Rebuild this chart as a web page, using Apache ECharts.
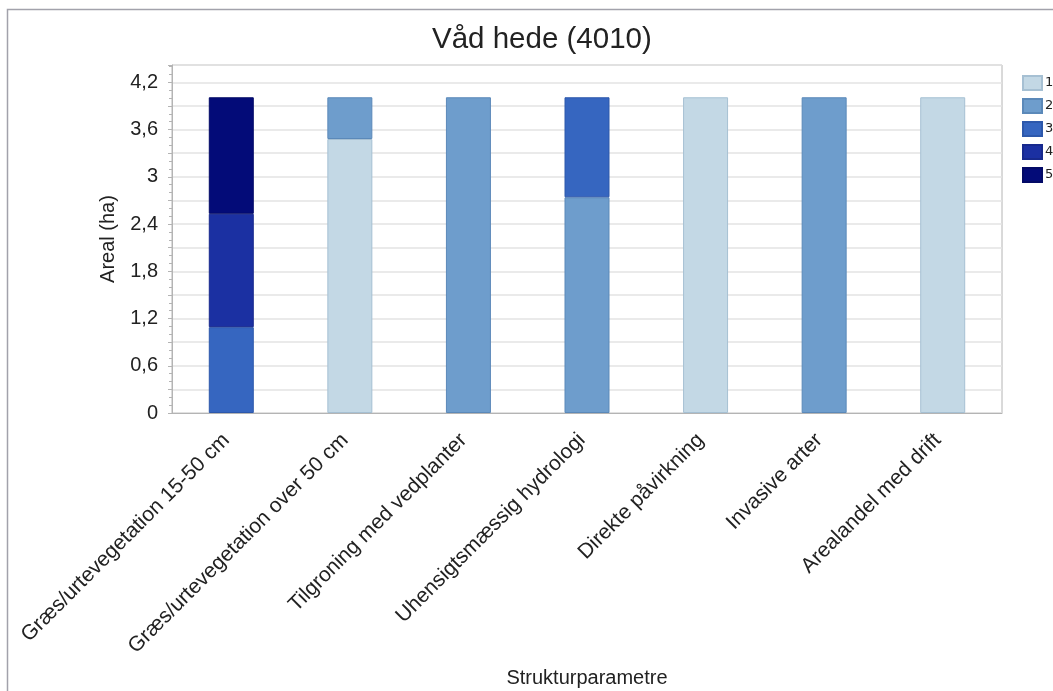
<!DOCTYPE html>
<html>
<head>
<meta charset="utf-8">
<script src="https://cdn.jsdelivr.net/npm/echarts@6/dist/echarts.min.js"></script>
<style>
  html, body { margin: 0; padding: 0; background: #fff; }
  #chart { width: 1053px; height: 691px; }
</style>
</head>
<body>
<div id="chart"></div>
<script>
const categories = [
  'Græs/urtevegetation 15-50 cm',
  'Græs/urtevegetation over 50 cm',
  'Tilgroning med vedplanter',
  'Uhensigtsmæssig hydrologi',
  'Direkte påvirkning',
  'Invasive arter',
  'Arealandel med drift'
]
const level1 = [null, 3.48, null, null, 4.01, null, 4.01]
const level2 = [null, 0.53, 4.01, 2.74, null, 4.01, null]
const level3 = [1.09, null, null, 1.27, null, null, null]
const level4 = [1.44, null, null, null, null, null, null]
const level5 = [1.48, null, null, null, null, null, null]

const levels = [
  { name: '1', data: level1, color: '#c3d8e5', border: '#a6c0d3' },
  { name: '2', data: level2, color: '#6e9dcc', border: '#5b89b9' },
  { name: '3', data: level3, color: '#3666c0', border: '#2d58ab' },
  { name: '4', data: level4, color: '#1b30a2', border: '#17298d' },
  { name: '5', data: level5, color: '#030b78', border: '#030a66' },
]

const font = 'Liberation Sans, Arial, sans-serif'
const chart = echarts.init(document.getElementById('chart'))

chart.setOption({
  animation: false,
  backgroundColor: '#fff',
  graphic: [{
    type: 'rect',
    shape: { x: 7.5, y: 9.5, width: 1100, height: 800 },
    style: { fill: 'none', stroke: '#a2a2ab', lineWidth: 1.5 },
    silent: true,
  }],
  title: {
    text: 'Våd hede (4010)',
    left: 427,
    top: 20,
    textStyle: { fontFamily: font, fontSize: 29.5, fontWeight: 'normal', color: '#222' },
  },
  legend: {
    orient: 'vertical',
    left: 1017,
    top: 70,
    itemWidth: 19,
    itemHeight: 14,
    itemGap: 7,
    icon: 'rect',
    textStyle: { fontFamily: 'DejaVu Sans, sans-serif', fontSize: 13, color: '#222', padding: [0, 0, 0, -2] },
    data: levels.map(l => l.name),
  },
  grid: {
    left: 172,
    top: 65,
    right: 51,
    bottom: 278,
    outerBoundsMode: 'none',
    containLabel: false,
    show: true,
    borderColor: '#b4b4b4',
    borderWidth: 1,
  },
  xAxis: [{
    type: 'category',
    data: categories,
    name: 'Strukturparametre',
    nameLocation: 'middle',
    nameGap: 255,
    nameTextStyle: { fontFamily: font, fontSize: 20, color: '#222' },
    axisLine: { lineStyle: { color: '#b4b4b4' } },
    axisTick: { alignWithLabel: true, length: 6, lineStyle: { color: '#b4b4b4' } },
    axisLabel: { rotate: 45, margin: 19, padding: [0, 7, 0, 0], fontFamily: font, fontSize: 21, color: '#222' },
  }, {
    type: 'category',
    data: new Array(35).fill(''),
    position: 'bottom',
    axisLine: { show: false },
    axisTick: { alignWithLabel: true, length: 3, lineStyle: { color: '#b4b4b4' } },
    axisLabel: { show: false },
    splitLine: { show: false },
  }],
  yAxis: {
    type: 'value',
    min: 0,
    max: 4.42,
    interval: 0.3,
    name: 'Areal (ha)',
    nameLocation: 'middle',
    nameGap: 54,
    nameTextStyle: { fontFamily: font, fontSize: 20, color: '#222' },
    axisLine: { show: true, lineStyle: { color: '#b4b4b4' } },
    axisTick: { show: true, length: 4, lineStyle: { color: '#b4b4b4' } },
    minorTick: { show: true, splitNumber: 3, length: 3, lineStyle: { color: '#b4b4b4' } },
    splitLine: { lineStyle: { color: '#e3e3e3', width: 1.5 } },
    axisLabel: {
      margin: 14,
      fontFamily: font,
      fontSize: 20,
      color: '#222',
      formatter: v => {
        const k = v / 0.6
        if (Math.abs(k - Math.round(k)) > 0.01) return ''
        return String(Number(v.toFixed(1))).replace('.', ',')
      },
    },
  },
  series: levels.map(l => ({
    name: l.name,
    type: 'bar',
    stack: 'areal',
    barWidth: 45,
    data: l.data,
    itemStyle: { color: l.color, borderColor: l.border, borderWidth: 1 },
  })),
})
</script>
</body>
</html>
